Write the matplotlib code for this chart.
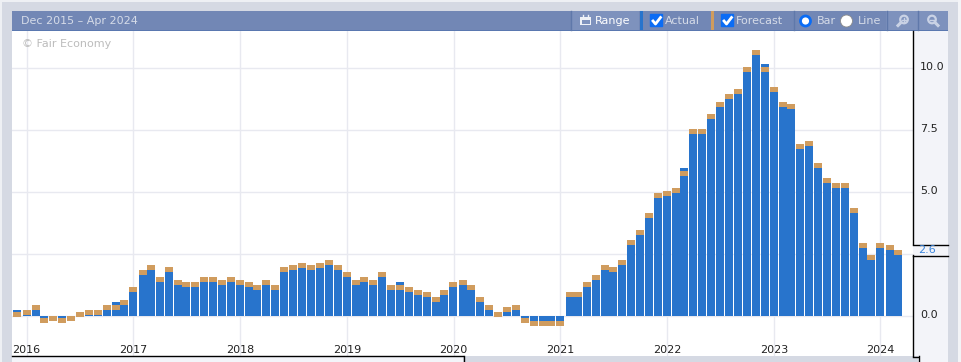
import datetime as dt
import matplotlib
matplotlib.use("Agg")
import matplotlib.pyplot as plt
import matplotlib.dates as mdates
from matplotlib.patches import Rectangle, FancyBboxPatch
from matplotlib.lines import Line2D
from matplotlib.transforms import ScaledTranslation

W, H = 961, 362
BLUE = "#2874cc"
TAN = "#d09c5e"
PAGE = "#d5d9e3"
HEAD = "#7287b5"
HEAD2 = "#7e92bd"
PANEL = "#f3f4f9"
GRID = "#e8e9f0"

start_year, start_month = 2015, 12
forecast = [0.14, 0.22, 0.42, -0.30, -0.22, -0.30, -0.22, 0.14, 0.22, 0.22, 0.42, 0.42, 0.62,
            1.15, 1.83, 2.04, 1.55, 1.96, 1.43, 1.35, 1.35, 1.55, 1.55, 1.43, 1.55,
            1.43, 1.35, 1.23, 1.43, 1.23, 1.96, 2.04, 2.12, 2.04, 2.12, 2.24, 2.04,
            1.75, 1.43, 1.55, 1.43, 1.75, 1.23, 1.23, 1.15, 1.03, 0.95, 0.75, 1.03,
            1.35, 1.43, 1.23, 0.75, 0.42, 0.14, 0.34, 0.42, -0.30, -0.42, -0.42, -0.42, -0.42,
            0.95, 0.95, 1.35, 1.63, 2.04, 1.96, 2.24, 3.04, 3.45, 4.13,
            4.94, 5.02, 5.14, 5.83, 7.52, 7.52, 8.12, 8.60, 8.93, 9.13, 10.02, 10.70,
            10.02, 9.20, 8.60, 8.52, 6.91, 7.04, 6.15, 5.54, 5.34, 5.34, 4.33, 2.92,
            2.44, 2.92, 2.84, 2.64]
# Actual values that differ visibly from the forecast, by bar position
actual_over = {0: 0.22, 4: -0.03, 11: 0.54, 43: 1.35, 75: 5.95, 84: 10.14}
actual = [actual_over.get(i, f) for i, f in enumerate(forecast)]
year_ticks = [2016, 2017, 2018, 2019, 2020, 2021, 2022, 2023, 2024]
y_ticks = [0.0, 2.5, 5.0, 7.5, 10.0]
y_tick_labels = ["0.0", "", "5.0", "7.5", "10.0"]
cap_height = 0.19
last_label = "2.6"

dates = []
y, m = start_year, start_month
for _ in forecast:
    dates.append(dt.date(y, m, 1))
    m += 1
    if m > 12:
        y, m = y + 1, 1

plt.rcParams["font.family"] = ["DejaVu Sans"]
fig = plt.figure(figsize=(W / 100, H / 100), dpi=100, facecolor=PAGE)


def fx(x):
    return x / W


def fy(y_px):
    return 1 - y_px / H


def rect(x0, y0, x1, y1, color, z=0, **kw):
    fig.add_artist(Rectangle((fx(x0), fy(y1)), (x1 - x0) / W, (y1 - y0) / H,
                             transform=fig.transFigure, facecolor=color,
                             edgecolor="none", zorder=z, **kw))


def line(xs, ys, color="black", lw=1.0, z=5, **kw):
    fig.add_artist(Line2D([fx(v) for v in xs], [fy(v) for v in ys],
                          transform=fig.transFigure, color=color, lw=lw, zorder=z, **kw))


def label(x, y_px, s, color, size=8.0, ha="left", z=6):
    fig.text(fx(x), fy(y_px), s, color=color, fontsize=size, ha=ha, va="center", zorder=z)


# Page frame
rect(0, 0, W, 2, "#eef0f4", -3)
rect(0, 0, 2, H, "#eef0f4", -3)
rect(958, 0, W, H, "#f3f4f7", -3)
rect(12, 356, 463, H, PANEL, -2)
rect(918, 31, 948, H, PANEL, -2)
rect(913, 31, 948, 356, PANEL, -2)

# Chart axes
ax = fig.add_axes([fx(12), fy(356), (913 - 12) / W, (356 - 31) / H], facecolor="white")
px_per_day = (880.5 - 26.5) / (dt.date(2024, 1, 1) - dt.date(2016, 1, 1)).days
base = mdates.date2num(dt.date(2016, 1, 1))
ax.set_xlim(base - (26.5 - 12) / px_per_day, base + (913 - 26.5) / px_per_day)
ax.set_ylim(0 - (356 - 315.5) / 24.8, (315.5 - 31) / 24.8)
bar_w = 8.0 / px_per_day

ax.bar(dates, actual, width=bar_w, color=BLUE, linewidth=0, zorder=3)
cap_bottom = [f - cap_height if f >= 0 else f for f in forecast]
ax.bar(dates, [cap_height] * len(forecast), bottom=cap_bottom, width=bar_w,
       color=TAN, linewidth=0, zorder=4)

ax.set_xticks([dt.date(v, 1, 1) for v in year_ticks])
ax.set_xticklabels([str(v) for v in year_ticks])
ax.set_yticks(y_ticks)
ax.set_yticklabels(y_tick_labels)
ax.yaxis.tick_right()
ax.grid(True, color=GRID, lw=1.0, zorder=1)
ax.set_axisbelow(True)
ax.tick_params(axis="both", length=0, labelsize=8.0, labelcolor="#222222")
ax.tick_params(axis="x", pad=-8)
ax.tick_params(axis="y", pad=5)
up_one = ScaledTranslation(0, 1 / 100, fig.dpi_scale_trans)
for lab in ax.get_yticklabels():
    lab.set_transform(lab.get_transform() + up_one)
for lab in ax.get_xticklabels():
    lab.set_zorder(6)
for s in ax.spines.values():
    s.set_visible(False)
label(22, 44, "\u00a9 Fair Economy", "#bcbcbc", 8.0)

# Axis frame lines
line([913, 913], [31, 244], lw=1.0)
line([913, 948], [244.5, 244.5], lw=1.0)
rect(913.5, 245, 948, 255, PANEL, 4)
line([913, 948], [255.5, 255.5], lw=1.0)
line([913, 913], [255, 356], lw=1.0)
line([12, 463], [356, 356], lw=1.0)
line([463.5, 463.5], [356, H], lw=1.0)
line([913, 918], [356.5, 356.5], lw=1.0)
line([918.5, 918.5], [356, H], lw=1.0)
label(918, 250, last_label, "#3b86de", 8.0)

# Header band and toolbar
rect(12, 11, 948, 31, HEAD, 3)
rect(12, 30, 948, 31, "#5a78b0", 3.5)
label(21, 21, "Dec 2015 \u2013 Apr 2024", "#d5dbe8", 8.0)
rect(571, 11, 639, 30, HEAD2, 3.2)
rect(886, 11, 948, 30, HEAD2, 3.2)
rect(639.5, 11, 643, 30, BLUE, 3.4)
rect(711, 11, 714, 30, TAN, 3.4)
for sx in [570.5, 793.5, 886.5, 917.5]:
    line([sx, sx], [11, 30], color="#5f78aa", lw=1.0, z=3.5)
label(595, 21, "Range", "white", 8.0)
label(665, 21, "Actual", "#d5dbe8", 8.0)
label(736, 21, "Forecast", "#d5dbe8", 8.0)
label(817, 21, "Bar", "#d5dbe8", 8.0)
label(858, 21, "Line", "#d5dbe8", 8.0)

# Range icon
rect(580, 17, 591, 25, "#eef1f7", 5)
rect(581.5, 20, 589.5, 23.5, HEAD2, 5.2)
for cx in [583, 588]:
    line([cx, cx], [15, 18], color="#eef1f7", lw=1.0, z=5.3)


def checkbox(x0):
    fig.add_artist(FancyBboxPatch((fx(x0 + 0.5), fy(26.5)), 12 / W, 12 / H,
                                  boxstyle="round,pad=0", transform=fig.transFigure,
                                  facecolor="#0a6cf5", edgecolor="#0a6cf5", lw=1, zorder=5))
    line([x0 + 3, x0 + 5.5, x0 + 10.5], [21, 24, 17.5], color="white", lw=2.0, z=5.5)


checkbox(650)
checkbox(721)


def circle(cx, cy, r, face, edge, lw, z=5):
    fig.add_artist(plt.Circle((cx, H - cy), r, transform=None, facecolor=face,
                              edgecolor=edge, lw=lw, zorder=z))


circle(805.5, 21, 5.0, "white", "#0a6cf5", 2.0)
circle(846.5, 21, 6.0, "white", "#8a8a8a", 0.6)

# Zoom icons
circle(904, 19.5, 3.8, "none", "#c9d2e5", 1.6)
line([901, 898], [22.5, 25.5], color="#c9d2e5", lw=2.2)
line([902, 906], [19.5, 19.5], color="#c9d2e5", lw=1)
line([904, 904], [17.5, 21.5], color="#c9d2e5", lw=1)
circle(932, 19.5, 3.8, "none", "#c9d2e5", 1.6)
line([935, 938], [22.5, 25.5], color="#c9d2e5", lw=2.2)
line([930, 934], [19.5, 19.5], color="#c9d2e5", lw=1)

fig.savefig("out.png", dpi=100, facecolor=PAGE)
